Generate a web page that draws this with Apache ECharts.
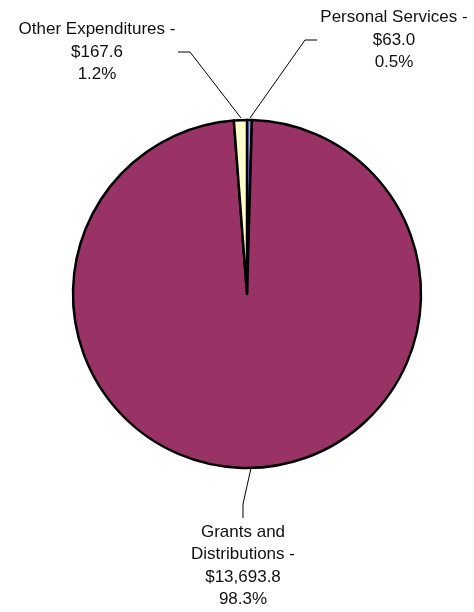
<!DOCTYPE html>
<html lang="en">
<head>
  <meta charset="UTF-8">
  <title>Expenditures</title>
  <script src="https://cdn.jsdelivr.net/npm/echarts@6/dist/echarts.min.js"></script>
  <style>
    html, body { margin: 0; padding: 0; background: #fff; }
    #chart { width: 474px; height: 612px; }
  </style>
</head>
<body>
<div id="chart"></div>
<script>
  // slices clockwise from 12 o'clock
  var names = ['Personal Services', 'Grants and\nDistributions', 'Other Expenditures'];
  var values = [63.0, 13693.8, 167.6];
  var colors = ['#9999FF', '#993366', '#FFFFCC'];

  // label placement (text block centre) and leader line bends
  var labelPos = [
    { x: 394, y: 40, line: [[250, 118], [305, 40], [317, 40]] },
    { x: 243, y: 566, line: [[251, 468], [243, 504], [243, 518]] },
    { x: 97, y: 52, line: [[241, 118], [190, 52], [178, 52]] }
  ];

  var total = values.reduce(function (a, b) { return a + b; }, 0);

  function money(v) {
    var parts = v.toFixed(1).split('.');
    parts[0] = parts[0].replace(/\B(?=(\d{3})+(?!\d))/g, ',');
    return '$' + parts.join('.');
  }

  var data = names.map(function (n, i) {
    return { name: n, value: values[i], itemStyle: { color: colors[i] } };
  });

  var chart = echarts.init(document.getElementById('chart'));
  chart.setOption({
    animation: false,
    series: [{
      type: 'pie',
      center: [247, 294],
      radius: 174,
      startAngle: 90,
      clockwise: true,
      avoidLabelOverlap: false,
      data: data,
      itemStyle: { borderColor: '#000', borderWidth: 2.5 },
      label: {
        show: true,
        position: 'outside',
        fontFamily: 'Liberation Sans, Arial, sans-serif',
        fontSize: 17,
        lineHeight: 22.5,
        color: '#111',
        align: 'center',
        formatter: function (p) {
          return p.name + ' -\n' + money(p.value) + '\n' + (p.value / total * 100).toFixed(1) + '%';
        }
      },
      labelLine: {
        show: true,
        lineStyle: { color: '#000', width: 1 }
      },
      labelLayout: function (params) {
        var pos = labelPos[params.dataIndex];
        return {
          x: pos.x,
          y: pos.y,
          align: 'center',
          verticalAlign: 'middle',
          labelLinePoints: pos.line
        };
      },
      emphasis: { disabled: true }
    }]
  });
</script>
</body>
</html>
